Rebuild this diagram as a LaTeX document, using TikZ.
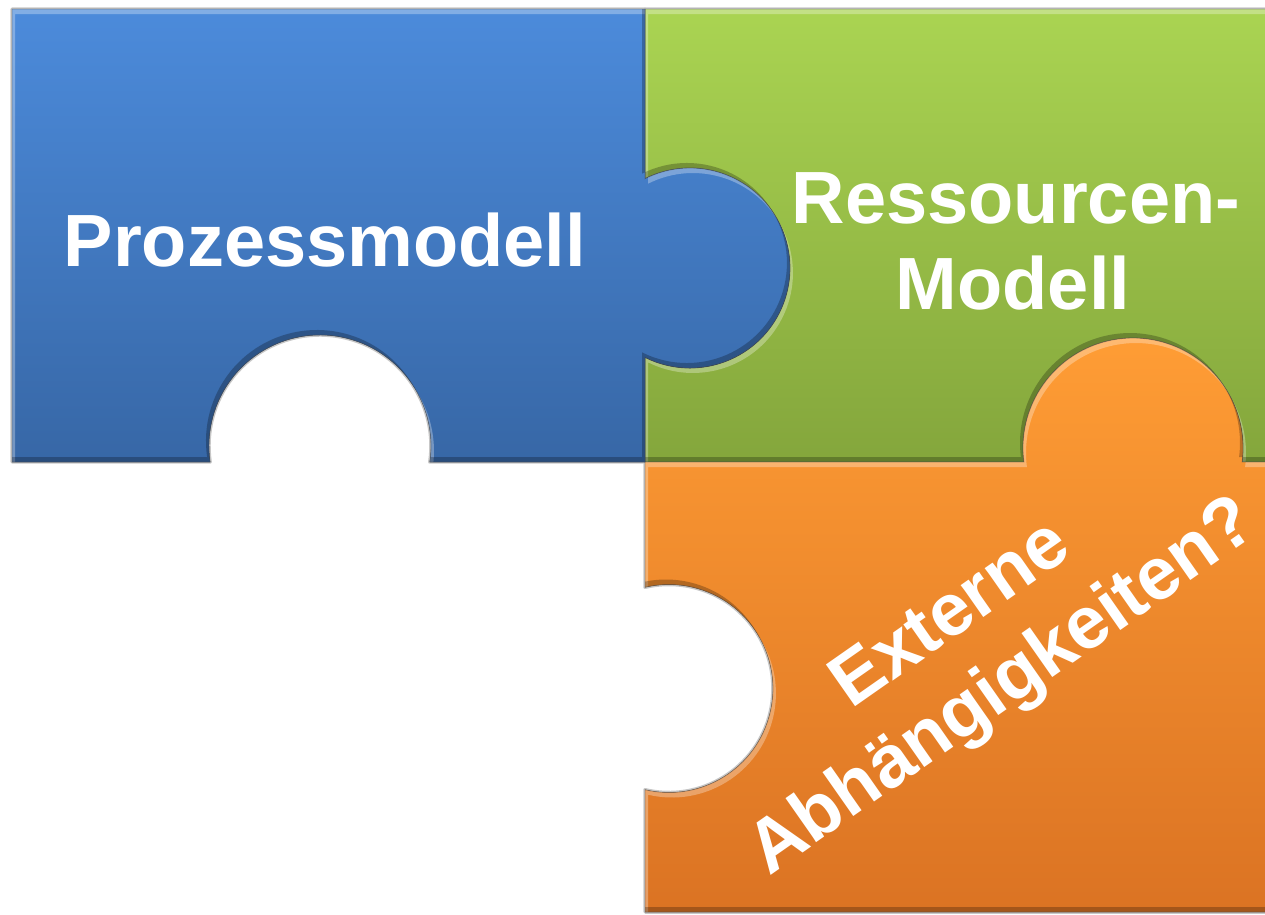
\documentclass[tikz,border=0pt]{standalone}
\usepackage{fontspec}
\setmainfont{Liberation Sans}
\definecolor{blueTop}{HTML}{4C8BDB}
\definecolor{blueBot}{HTML}{3767A6}
\definecolor{greenTop}{HTML}{AAD452}
\definecolor{greenBot}{HTML}{84A63C}
\definecolor{orangeTop}{HTML}{FF9D35}
\definecolor{orangeBot}{HTML}{DB7323}
\newcommand{\drawpiece}[3]{%
  \fill[top color=#2,bottom color=#3] #1;
  \begin{scope}
    \clip #1;
    \begin{scope}[shift={(3,5)}]
      \fill[white,opacity=.30,even odd rule] (-60,-60) rectangle (1400,1000) #1;
    \end{scope}
    \begin{scope}[shift={(-3,-5)}]
      \fill[black,opacity=.25,even odd rule] (-60,-60) rectangle (1400,1000) #1;
    \end{scope}
  \end{scope}
  \draw[black!70,opacity=.45,line width=0.8] #1;
}
\tikzset{
  txt/.style={font=\fontsize{74bp}{88bp}\selectfont\bfseries, text=white, inner sep=0pt, anchor=base},
  glow/.style={draw=black!22, line width=3.5, line join=round}
}
\begin{document}
\begin{tikzpicture}[x=1bp,y=-1bp]
\useasboundingbox (0,0) rectangle (1265,915);
\clip (0,0) rectangle (1265,915);
\def\bluepath{(12,9) -- (645,9) -- (645,178.7) arc[start angle=-116.7,end angle=116.7,radius=100] -- (645,462) -- (429.8,462) arc[start angle=8.3,end angle=-188.3,radius=111] -- (12,462) -- cycle}
\def\greenpath{(645,9) -- (1300,9) -- (1300,462) -- (1242.1,462) arc[start angle=7.3,end angle=-187.3,radius=110] -- (645,462) -- (645,357.3) arc[start angle=116.7,end angle=-116.7,radius=100] -- cycle}
\def\orangepath{(645,462) -- (1023.9,462) arc[start angle=-187.3,end angle=7.3,radius=110] -- (1300,462) -- (1300,912) -- (645,912) -- (645,789.7) arc[start angle=103.3,end angle=-103.3,radius=104] -- cycle}
% soft outline / shadow
\draw[glow] \bluepath;
\draw[glow] \greenpath;
\draw[glow] \orangepath;
% pieces
\drawpiece{\greenpath}{greenTop}{greenBot}
\drawpiece{\orangepath}{orangeTop}{orangeBot}
\drawpiece{\bluepath}{blueTop}{blueBot}
% labels
\node[txt] (proz) at (325,266) {Prozessmodell};
\node[txt] (res) at (1016,223) {Ressourcen-};
\node[txt] (mod) at (1013,309) {Modell};
\node[txt,rotate=35] (ext) at (963,632) {Externe};
\node[txt,rotate=35] (abh) at (1015,704) {Abhängigkeiten?};
\end{tikzpicture}
\end{document}
